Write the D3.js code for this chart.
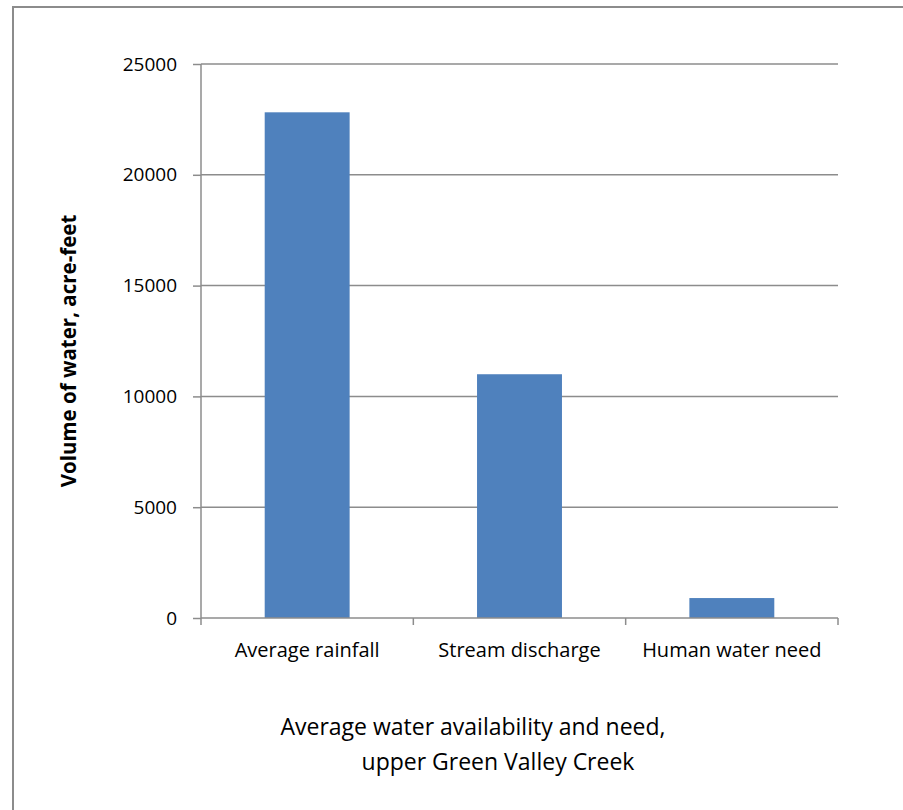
<!DOCTYPE html>
<html lang="en">
<head>
    <meta charset="UTF-8">
    <title>Average water availability and need</title>
    <script src="https://d3js.org/d3.v7.min.js"></script>
    <style>
        body {
            margin: 0;
            background-color: white;
            font-family: 'Open Sans', Lato, sans-serif;
        }
        .tick text {
            font-family: 'Open Sans', Lato, sans-serif;
            font-size: 19px;
            fill: #000;
        }
    </style>
</head>
<body>
    <div id="chart"></div>

  <script>
    // Data
    const categories = ["Average rainfall", "Stream discharge", "Human water need"];
    const values = [22820, 11000, 900];
    const yTicks = [0, 5000, 10000, 15000, 20000, 25000];
    const titleLines = ["Average water availability and need,", "upper Green Valley Creek"];

    const margin = { top: 64, right: 65, bottom: 192, left: 201 };
    const fullWidth = 903, fullHeight = 810;
    const width = fullWidth - margin.left - margin.right;
    const height = fullHeight - margin.top - margin.bottom;

    const root = d3.select("#chart")
      .append("svg")
      .attr("width", fullWidth)
      .attr("height", fullHeight);

    // Outer frame (runs off the right and bottom edges)
    root.append("rect")
      .attr("x", 13)
      .attr("y", 7)
      .attr("width", 920)
      .attr("height", 830)
      .attr("fill", "white")
      .attr("stroke", "#8c8c8c")
      .attr("stroke-width", 2);

    const svg = root.append("g")
      .attr("transform", `translate(${margin.left},${margin.top})`);

    const xScale = d3.scaleBand()
      .domain(categories)
      .range([0, width])
      .paddingInner(0.6)
      .paddingOuter(0.3);

    const yScale = d3.scaleLinear()
      .domain([0, 25000])
      .range([height, 0]);

    // Gridlines
    svg.append("g")
      .selectAll("line")
      .data(yTicks.filter(d => d > 0))
      .enter()
      .append("line")
      .attr("x1", 0)
      .attr("x2", width)
      .attr("y1", d => yScale(d))
      .attr("y2", d => yScale(d))
      .attr("stroke", "#8c8c8c")
      .attr("stroke-width", 1.5);

    // Bars
    svg.selectAll(".bar")
      .data(categories)
      .enter()
      .append("rect")
      .attr("class", "bar")
      .attr("x", d => xScale(d))
      .attr("width", xScale.bandwidth())
      .attr("y", (d, i) => yScale(values[i]))
      .attr("height", (d, i) => height - yScale(values[i]))
      .attr("fill", "#4f81bd");

    // Y axis
    const yAxis = svg.append("g")
      .call(d3.axisLeft(yScale).tickValues(yTicks).tickFormat(d3.format("d")).tickSize(8).tickPadding(16));
    yAxis.attr("font-family", null);
    yAxis.selectAll("line, path").attr("stroke", "#8c8c8c").attr("stroke-width", 1.5);
    yAxis.select(".domain").attr("d", `M0,0V${height}`);

    // X axis with ticks at category boundaries
    const xAxisG = svg.append("g")
      .attr("transform", `translate(0,${height})`);
    xAxisG.append("line")
      .attr("x1", 0).attr("x2", width)
      .attr("stroke", "#8c8c8c").attr("stroke-width", 1.5);
    xAxisG.selectAll(".xtick")
      .data(d3.range(categories.length + 1))
      .enter()
      .append("line")
      .attr("x1", i => i * width / categories.length)
      .attr("x2", i => i * width / categories.length)
      .attr("y1", 0).attr("y2", 7)
      .attr("stroke", "#8c8c8c").attr("stroke-width", 1.5);
    xAxisG.selectAll(".xlabel")
      .data(categories)
      .enter()
      .append("text")
      .attr("x", d => xScale(d) + xScale.bandwidth() / 2)
      .attr("y", 39)
      .attr("text-anchor", "middle")
      .attr("font-size", "20px")
      .text(d => d);

    // Y axis label
    root.append("text")
      .attr("transform", `translate(76,351) rotate(-90)`)
      .attr("text-anchor", "middle")
      .attr("font-size", "20.5px")
      .attr("font-weight", "bold")
      .text("Volume of water, acre-feet");

    // Chart title below (second line sits a bit to the right, as in the original)
    const titleX = [473, 498];
    root.selectAll(".title")
      .data(titleLines)
      .enter()
      .append("text")
      .attr("x", (d, i) => titleX[i])
      .attr("y", (d, i) => 735 + i * 35)
      .attr("text-anchor", "middle")
      .attr("font-size", "23px")
      .text(d => d);
  </script>
</body>
</html>
